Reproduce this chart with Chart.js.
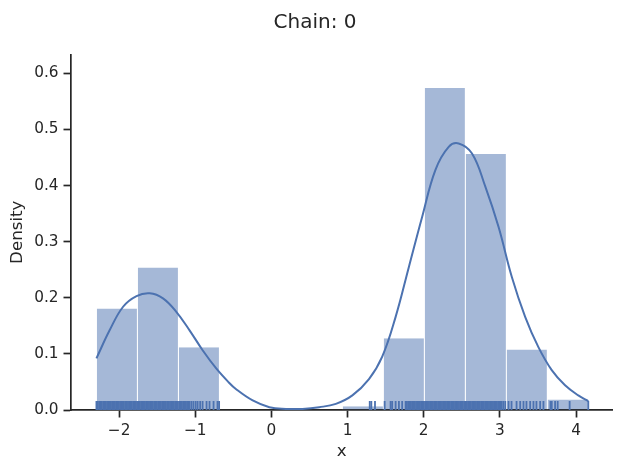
<!DOCTYPE html>
<html>
<head>
<meta charset="utf-8">
<title>Chain: 0</title>
<script src="https://cdn.jsdelivr.net/npm/chart.js@4.4.1/dist/chart.umd.min.js"></script>
<style>
  html, body { margin: 0; padding: 0; background: #fff; }
  canvas { display: block; }
</style>
</head>
<body>
<canvas id="chart" width="623" height="472"></canvas>
<script>
// histogram: bin edges and density of each bin
var binEdges = [-2.298, -1.760, -1.221, -0.683, -0.145, 0.393, 0.932, 1.470, 2.008, 2.547, 3.085, 3.623, 4.161];
var binDensity = [0.181, 0.254, 0.112, 0, 0, 0, 0.0066, 0.128, 0.574, 0.456, 0.108, 0.0185];

// kde curve
var kdeX = [-2.298, -2.125, -1.948, -1.772, -1.598, -1.424, -1.249, -1.075, -0.901, -0.725, -0.573, -0.463, -0.246, -0.027,
            0.191, 0.408, 0.627, 0.846, 1.063, 1.281, 1.455, 1.631, 1.805, 1.979, 2.154, 2.328, 2.459, 2.634, 2.809,
            2.983, 3.157, 3.332, 3.506, 3.681, 3.856, 4.030, 4.161];
var kdeY = [0.092, 0.142, 0.184, 0.203, 0.208, 0.199, 0.175, 0.142, 0.106, 0.074, 0.051, 0.037, 0.017, 0.005,
            0.002, 0.002, 0.005, 0.011, 0.026, 0.055, 0.095, 0.166, 0.255, 0.344, 0.428, 0.469, 0.475, 0.457, 0.398,
            0.326, 0.237, 0.166, 0.112, 0.071, 0.044, 0.026, 0.016];

// rug ticks (samples)
var rugX = [
  -2.298, -2.281, -2.262, -2.247, -2.229, -2.21, -2.196, -2.178, -2.159, -2.143, -2.126, -2.108, -2.091, -2.075,
  -2.057, -2.04, -2.022, -2.006, -1.988, -1.971, -1.953, -1.937, -1.919, -1.902, -1.884, -1.868, -1.85, -1.833,
  -1.815, -1.799, -1.781, -1.764, -1.746, -1.73, -1.712, -1.695, -1.677, -1.661, -1.643, -1.626, -1.608, -1.592,
  -1.574, -1.557, -1.539, -1.523, -1.505, -1.488, -1.47, -1.454, -1.436, -1.419, -1.401, -1.385, -1.367, -1.35,
  -1.332, -1.316, -1.298, -1.281, -1.263, -1.247, -1.229, -1.212, -1.194, -1.178, -1.16, -1.143, -1.125, -1.108,
  -1.092, -1.075, -1.05, -1.024, -0.995, -0.969, -0.936, -0.904, -0.852, -0.813, -0.76, -0.708, -0.687,
  1.291, 1.312, 1.36,
  1.487, 1.565, 1.586, 1.631, 1.674, 1.717, 1.762, 1.779, 1.797, 1.812, 1.83, 1.847, 1.864, 1.881, 1.899, 1.915,
  1.933, 1.95, 1.967, 1.984, 2.001, 2.018, 2.036, 2.052, 2.069, 2.087, 2.103, 2.121, 2.138, 2.155, 2.172, 2.189,
  2.206, 2.224, 2.24, 2.258, 2.275, 2.292, 2.309, 2.326, 2.343, 2.361, 2.377, 2.395, 2.412, 2.429, 2.446, 2.463,
  2.48, 2.498, 2.514, 2.532, 2.549, 2.566, 2.583, 2.6, 2.617, 2.635, 2.651, 2.669, 2.686, 2.703, 2.72, 2.737,
  2.754, 2.772, 2.788, 2.806, 2.823, 2.84, 2.857, 2.874, 2.891, 2.909, 2.925, 2.943, 2.96, 2.977, 2.994, 3.011,
  3.022, 3.045, 3.071, 3.114, 3.153, 3.219, 3.267, 3.31, 3.349, 3.398, 3.441, 3.48, 3.529, 3.572,
  3.664, 3.681, 3.725, 3.759, 3.916, 4.161
];

var xTicks = [-2, -1, 0, 1, 2, 3, 4];
var yTicks = [0, 0.1, 0.2, 0.3, 0.4, 0.5, 0.6];

var BLUE = '#4c72b0';
var INK = '#262626';
Chart.defaults.font.family = "'DejaVu Sans', sans-serif";
Chart.defaults.color = INK;

var barData = binDensity.map(function (d, i) {
    return { x: (binEdges[i] + binEdges[i + 1]) / 2, y: d };
});
var kdeData = kdeX.map(function (x, i) { return { x: x, y: kdeY[i] }; });
var rugData = rugX.map(function (x) { return { x: x, y: 0 }; });

var axisGrid = {
    display: true,
    drawOnChartArea: false,
    drawTicks: true,
    tickLength: 7.5,
    tickWidth: 1.7,
    tickColor: INK,
    offset: false
};

new Chart(document.getElementById('chart'), {
    type: 'bar',
    data: {
        datasets: [
            {
                type: 'scatter',
                data: rugData,
                pointStyle: 'line',
                rotation: 90,
                radius: 9,
                borderColor: BLUE,
                borderWidth: 1.8,
                clip: 0,
                order: 0
            },
            {
                type: 'line',
                data: kdeData,
                borderColor: BLUE,
                borderWidth: 2,
                pointRadius: 0,
                fill: false,
                tension: 0.4,
                order: 1
            },
            {
                type: 'bar',
                data: barData,
                backgroundColor: 'rgba(76, 114, 176, 0.5)',
                borderColor: '#ffffff',
                borderWidth: { top: 0, left: 0.5, right: 0.5, bottom: 0 },
                borderSkipped: false,
                inflateAmount: 0,
                barPercentage: 1,
                categoryPercentage: 1,
                order: 2
            }
        ]
    },
    options: {
        responsive: false,
        animation: false,
        events: [],
        layout: { padding: { left: 16, right: 9, top: 0, bottom: 0 } },
        plugins: {
            legend: { display: false },
            tooltip: { enabled: false },
            title: {
                display: true,
                text: 'Chain: 0',
                color: INK,
                font: { size: 20, weight: 'normal' },
                padding: { top: 10.4, bottom: 20.1 }
            }
        },
        scales: {
            x: {
                type: 'linear',
                min: -2.632,
                max: 4.475,
                offset: false,
                grid: axisGrid,
                border: { display: true, color: INK, width: 1.7 },
                ticks: {
                    color: INK,
                    font: { size: 15.3 },
                    padding: 4.5,
                    maxRotation: 0,
                    callback: function (v) { return v < 0 ? '\u2212' + Math.abs(v) : String(v); }
                },
                afterBuildTicks: function (s) { s.ticks = xTicks.map(function (v) { return { value: v }; }); },
                afterFit: function (s) { s.height = 62; },
                title: {
                    display: true,
                    text: 'x',
                    color: INK,
                    font: { size: 16.7 },
                    padding: { top: 0, bottom: 10.6 }
                }
            },
            y: {
                type: 'linear',
                min: 0,
                max: 0.6335,
                grid: axisGrid,
                border: { display: true, color: INK, width: 1.7 },
                ticks: {
                    color: INK,
                    font: { size: 15.3 },
                    padding: 5,
                    callback: function (v) { return v.toFixed(1); }
                },
                afterBuildTicks: function (s) { s.ticks = yTicks.map(function (v) { return { value: v }; }); },
                afterFit: function (s) { s.width = 55; },
                title: {
                    display: true,
                    text: 'Density',
                    color: INK,
                    font: { size: 16.7 },
                    padding: { top: -8, bottom: 0 }
                }
            }
        }
    }
});
</script>
</body>
</html>
